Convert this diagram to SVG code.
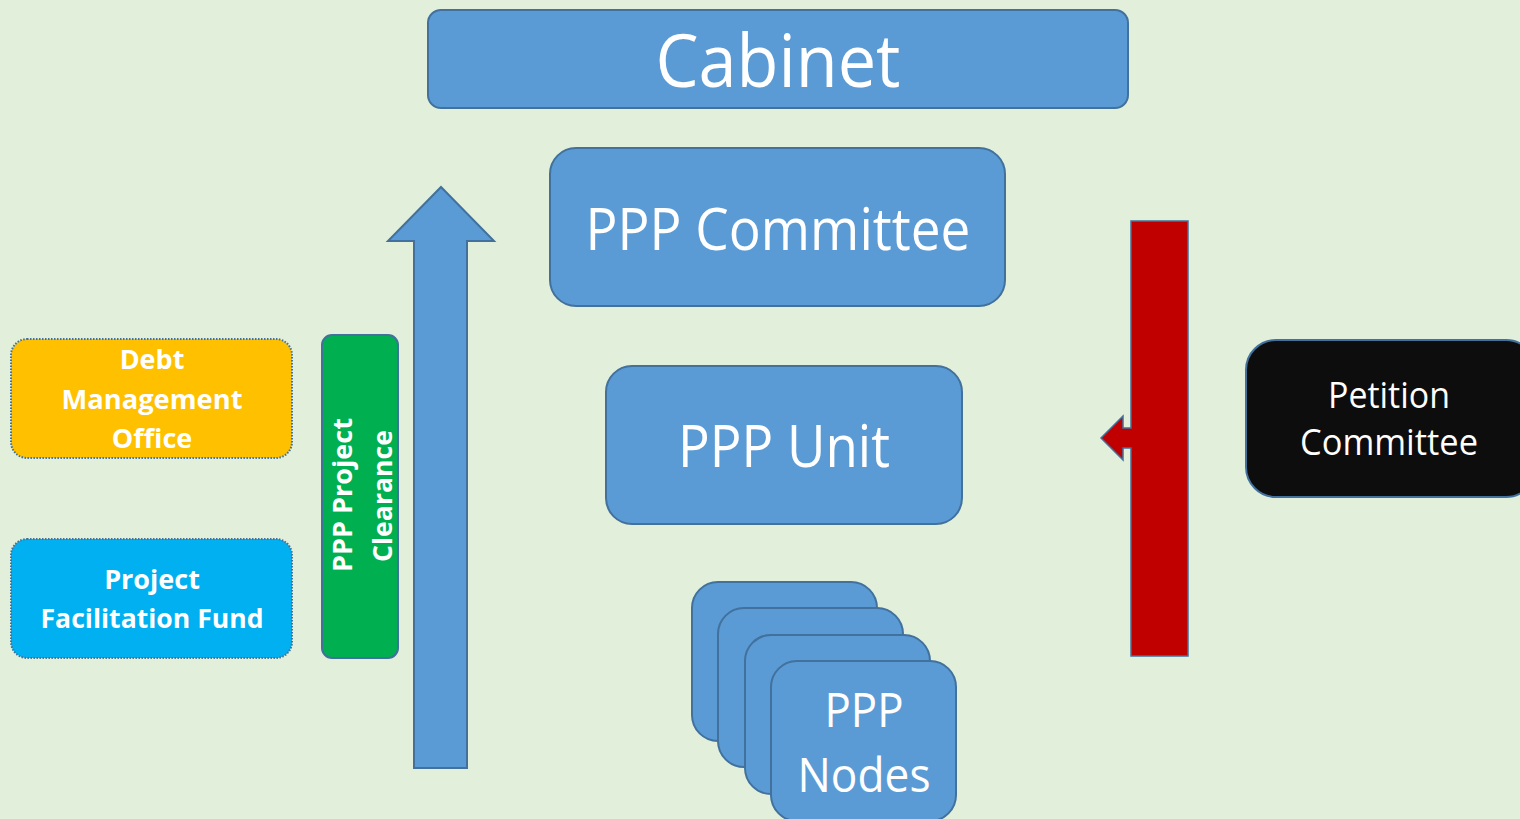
<svg xmlns="http://www.w3.org/2000/svg" width="1520" height="819" viewBox="0 0 1520 819">
<style>
.blue{fill:#5B9BD5;stroke:#41719C;stroke-width:2}
.t{font-family:"Open Sans","Noto Sans",sans-serif;fill:#fff;text-anchor:middle}
.b{font-weight:bold}
.dot{stroke:#41719C;stroke-width:2;stroke-dasharray:1.5 1.5}
</style>
<rect width="1520" height="819" fill="#E2EFDA"/>
<g id="cabinet">
<rect class="blue" x="428" y="10" width="700" height="98" rx="13"/>
<text class="t" x="778" y="87" font-size="73" textLength="245" lengthAdjust="spacingAndGlyphs">Cabinet</text>
</g>
<g id="ppp-committee">
<rect class="blue" x="550" y="148" width="455" height="158" rx="26"/>
<text class="t" x="778" y="250" font-size="58" textLength="385" lengthAdjust="spacingAndGlyphs">PPP Committee</text>
</g>
<g id="ppp-unit">
<rect class="blue" x="606" y="366" width="356" height="158" rx="26"/>
<text class="t" x="784" y="467" font-size="58" textLength="212" lengthAdjust="spacingAndGlyphs">PPP Unit</text>
</g>
<g id="ppp-nodes">
<rect class="blue" x="692" y="582" width="185" height="159" rx="26"/>
<rect class="blue" x="718" y="608" width="185" height="159" rx="26"/>
<rect class="blue" x="745" y="635" width="185" height="159" rx="26"/>
<rect class="blue" x="771" y="661" width="185" height="160" rx="26"/>
<text class="t" x="864" y="727" font-size="47" textLength="79" lengthAdjust="spacingAndGlyphs">PPP</text>
<text class="t" x="864" y="792" font-size="47" textLength="133" lengthAdjust="spacingAndGlyphs">Nodes</text>
</g>
<g id="debt-management-office">
<rect class="dot" x="11" y="339" width="281" height="119" rx="16" fill="#FFC000"/>
<text class="t b" x="152" y="369" font-size="27">Debt</text>
<text class="t b" x="152" y="409" font-size="27" textLength="181" lengthAdjust="spacingAndGlyphs">Management</text>
<text class="t b" x="152" y="448" font-size="27">Office</text>
</g>
<g id="project-facilitation-fund">
<rect class="dot" x="11" y="539" width="281" height="119" rx="16" fill="#00B0F0"/>
<text class="t b" x="152" y="589" font-size="27">Project</text>
<text class="t b" x="152" y="628" font-size="27" textLength="223" lengthAdjust="spacingAndGlyphs">Facilitation Fund</text>
</g>
<g id="ppp-project-clearance">
<rect x="322" y="335" width="76" height="323" rx="10" fill="#00B050" stroke="#41719C" stroke-width="2"/>
<text class="t b" transform="translate(352,495) rotate(-90)" font-size="27" textLength="154" lengthAdjust="spacingAndGlyphs">PPP Project</text>
<text class="t b" transform="translate(392,496) rotate(-90)" font-size="27" textLength="132" lengthAdjust="spacingAndGlyphs">Clearance</text>
</g>
<g id="petition-committee">
<rect x="1246" y="340" width="290" height="157" rx="30" fill="#0D0D0D" stroke="#41719C" stroke-width="2"/>
<text class="t" x="1389" y="408" font-size="36" textLength="122" lengthAdjust="spacingAndGlyphs">Petition</text>
<text class="t" x="1389" y="455" font-size="36" textLength="178" lengthAdjust="spacingAndGlyphs">Committee</text>
</g>
<g id="connectors">
<polygon class="blue" points="441,187 494,241 467,241 467,768 414,768 414,241 388,241"/>
<polygon points="1131,221 1188,221 1188,656 1131,656 1131,448 1123,448 1123,460 1101,438 1123,416 1123,428 1131,428" fill="#C00000" stroke="#41719C" stroke-width="1.5"/>
</g>
</svg>
